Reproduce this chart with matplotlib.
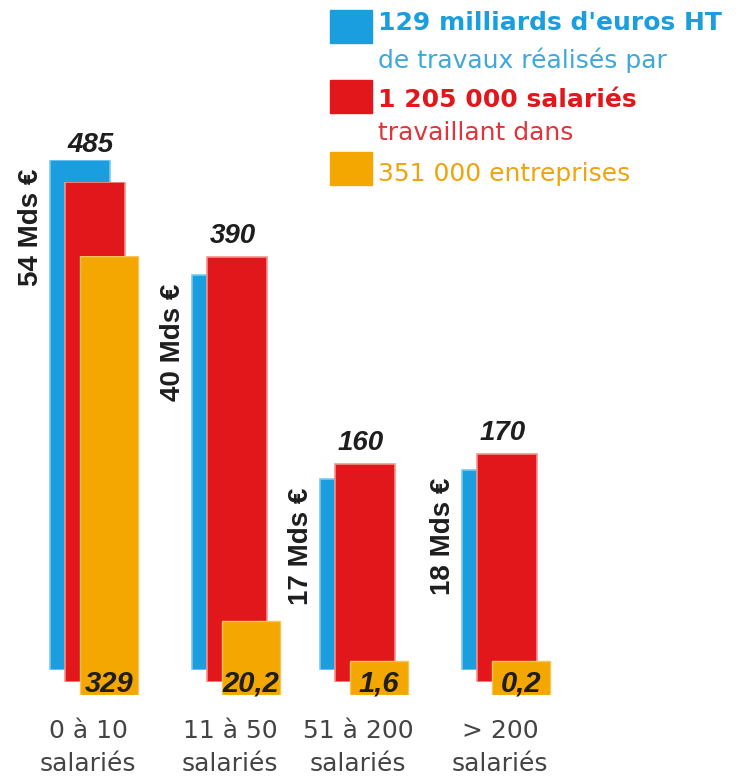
import numpy as np
import matplotlib.pyplot as plt
from matplotlib.patches import Rectangle

# data
groupes = ['0 à 10', '11 à 50', '51 à 200', '> 200']
ca_mds = [54, 40, 17, 18]              # milliards d'euros HT
salaries = [485, 390, 160, 170]        # milliers de salariés
entreprises = [329, 20.2, 1.6, 0.2]    # milliers d'entreprises
lbl_ent = ['329', '20,2', '1,6', '0,2']

BLUE = '#1b9ee0'
RED = '#e2171c'
ORANGE = '#f4a700'
DARK = '#1e1e1e'

W, H = 746, 776
plt.rcParams['font.family'] = ['Liberation Sans', 'DejaVu Sans']
fig = plt.figure(figsize=(W / 100, H / 100), dpi=100)

xpos = np.array([88, 230, 358, 500])   # group centres in pixels
bw = 60


def pix_axes(base, height):
    ax = fig.add_axes([0, (H - base) / H, 1, height / H])
    ax.set_xlim(0, W)
    ax.axis('off')
    return ax


def power_scale(ax, p):
    ax.set_yscale('function', functions=(lambda v: np.power(np.clip(v, 0, None), p),
                                         lambda v: np.power(np.clip(v, 0, None), 1 / p)))


# blue : chiffre d'affaires
ax_b = pix_axes(670, 510)
power_scale(ax_b, 0.85)
ax_b.set_ylim(0, max(ca_mds))
ax_b.bar(xpos - 38, ca_mds, width=bw, align='edge', color=BLUE,
         edgecolor='#7cc8ef', linewidth=1.2)
for x, v in zip(xpos, ca_mds):
    ax_b.annotate('%d Mds €' % v, (x - 38, v), xytext=(-4, -6), textcoords='offset points',
                  rotation=90, ha='right', va='top', fontsize=20, fontweight='bold', color=DARK)

# red : salariés
ax_r = pix_axes(682, 500)
power_scale(ax_r, 0.75)
ax_r.set_ylim(0, max(salaries))
ax_r.bar(xpos - 23, salaries, width=bw, align='edge', color=RED,
         edgecolor='#f2938c', linewidth=1.2)

# orange : entreprises (min height keeps room for the label)
ax_o = pix_axes(695, 439)
power_scale(ax_o, 0.64)
ax_o.set_ylim(0, max(entreprises))
shown = np.maximum(entreprises, 6)
ax_o.bar(xpos - 8, shown, width=bw - 2, align='edge', color=ORANGE,
         edgecolor='#f7c65a', linewidth=1.0)
for x, t in zip(xpos, lbl_ent):
    ax_o.annotate(t, (x + 21, 0), xytext=(0, 2.5), textcoords='offset points',
                  ha='center', va='baseline', fontsize=21, fontweight='bold',
                  fontstyle='italic', color=DARK)

# overlay in pixel coordinates for texts
ov = fig.add_axes([0, 0, 1, 1])
ov.set_xlim(0, W)
ov.set_ylim(H, 0)
ov.axis('off')

# red value labels above the highest bar of each group
for x, vb, vr in zip(xpos, ca_mds, salaries):
    yb = H - ax_b.transData.transform((0, vb))[1]
    yr = H - ax_r.transData.transform((0, vr))[1]
    top = min(yb + 6, yr)
    ov.text(x + 3, top - 14, str(vr), ha='center', va='baseline', fontsize=20,
            fontweight='bold', fontstyle='italic', color=DARK)

# group labels
for x, g in zip(xpos, groupes):
    ov.text(x, 738, g, ha='center', va='baseline', fontsize=18, color='#444444',
            family='DejaVu Sans')
    ov.text(x, 771, 'salariés', ha='center', va='baseline', fontsize=18, color='#444444',
            family='DejaVu Sans')

# legend
for y0, c in [(10, BLUE), (80, RED), (152, ORANGE)]:
    ov.add_patch(Rectangle((330, y0), 42, 33, color=c))
leg = dict(va='baseline', fontsize=18, family='DejaVu Sans')
ov.text(378, 30, "129 milliards d'euros HT", fontweight='bold', color=BLUE, **leg)
ov.text(378, 68, 'de travaux réalisés par', color='#3ea8dd', **leg)
ov.text(378, 107, '1 205 000 salariés', fontweight='bold', color=RED, **leg)
ov.text(378, 140, 'travaillant dans', color='#e0343a', **leg)
ov.text(378, 181, '351 000 entreprises', color='#eea40c', **leg)

fig.savefig('out.png', dpi=100)
